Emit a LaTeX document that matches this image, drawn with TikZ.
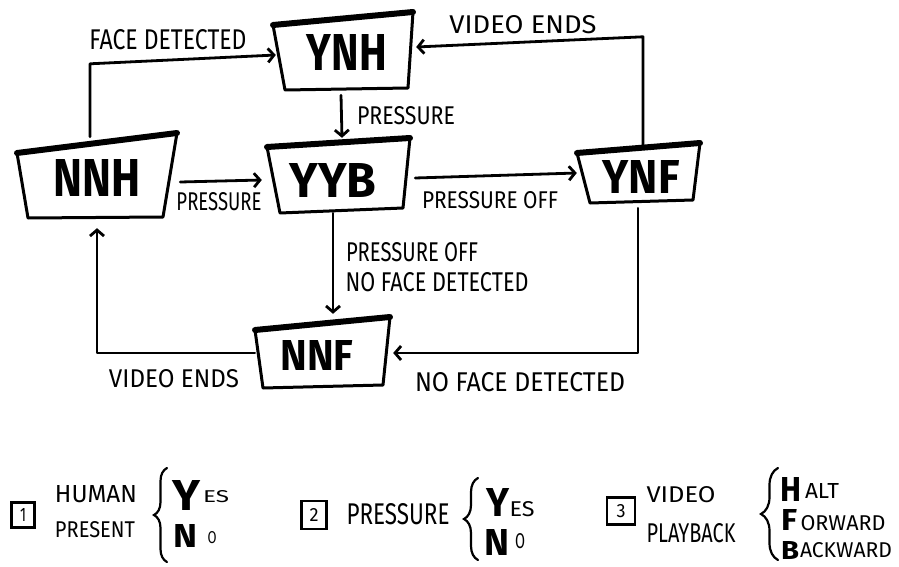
\documentclass[tikz,border=0pt]{standalone}
\usepackage{fontspec}
\usepackage{graphicx}
\setmainfont{Fira Sans}
\usetikzlibrary{arrows.meta,decorations.pathreplacing,calc}
\newcommand{\fitto}[3]{\resizebox{#1pt}{#2pt}{#3}}
\begin{document}
\begin{tikzpicture}[x=1pt,y=-1pt,
  ink/.style={line width=2.8pt, line cap=round, line join=round},
  arr/.style={ink, -{Straight Barb[length=6pt,width=14pt]}},
  boxside/.style={line width=3pt, line cap=round, line join=round},
  boxtop/.style={line width=6pt, line cap=round},
  state/.style={inner sep=0, font=\bfseries},
  lbl/.style={inner sep=0},
  bigl/.style={inner sep=0, font=\bfseries},
  keybox/.style={draw, line width=2.2pt, inner sep=0},
  brc/.style={line width=2.2pt, line cap=round, decorate, decoration={brace, amplitude=#1}}
]
\useasboundingbox (0,0) rectangle (899,567);
\fill[white] (0,0) rectangle (899,567);

% ---------- state nodes ----------
\node[state, minimum width=130pt, minimum height=72pt] (ynh) at (347,53) {\fitto{80}{36}{YNH}};
\node[state, minimum width=150pt, minimum height=76pt] (nnh) at (97,178) {\fitto{87}{37}{NNH}};
\node[state, minimum width=136pt, minimum height=66pt] (yyb) at (333,180) {\fitto{87}{34}{YYB}};
\node[state, minimum width=116pt, minimum height=56pt] (ynf) at (641,177) {\fitto{77}{33}{YNF}};
\node[state, minimum width=130pt, minimum height=62pt] (nnf) at (317,355) {\fitto{73}{30}{NNF}};

% ---------- box outlines ----------
\draw[boxside] (413,12) -- (408,88) -- (285,90) -- (273,25);
\draw[boxtop] (273,25) -- (413,12);
\draw[boxside] (177,133) -- (163,217) -- (28,218) -- (17,153);
\draw[boxtop] (17,153) -- (177,133);
\draw[boxside] (410,138) -- (403,208) -- (280,213) -- (267,147);
\draw[boxtop] (267,147) -- (410,138);
\draw[boxside] (700,143) -- (693,200) -- (590,203) -- (577,153);
\draw[boxtop] (577,153) -- (700,143);
\draw[boxside] (390,317) -- (383,385) -- (263,388) -- (255,330);
\draw[boxtop] (255,330) -- (390,317);

% ---------- connectors ----------
\draw[arr] ($(nnh.north)+(-7,-3)$) -- ++(0,-73) -- ($(ynh.west)+(-6,2)$);
\draw[arr] ($(ynh.south)+(-6,6)$) -- ($(yyb.north)+(9,-9)$);
\draw[arr] ($(nnh.east)+(8,4)$) -- ($(yyb.west)+(-3,0)$);
\draw[arr] ($(yyb.east)+(14,-2)$) -- ($(ynf.west)+(-6,-4)$);
\draw[arr] ($(ynf.north)+(2,-1)$) -- ++(0,-111) -- ($(ynh.east)+(4,-6)$);
\draw[arr] ($(yyb.south)+(0,0)$) -- ($(nnf.north)+(16,-10)$);
\draw[arr] ($(nnf.west)+(3,-2)$) -| ($(nnh.south)+(0,12)$);
\draw[arr] ($(ynf.south)+(-3,3)$) |- ($(nnf.east)+(11,-2)$);

% ---------- connector labels ----------
\node[lbl] (l1) at (168,40) {\fitto{157}{20}{FACE DETECTED}};
\node[lbl] (l2) at (406,116) {\fitto{98}{18}{PRESSURE}};
\node[lbl] (l3) at (219,202) {\fitto{85}{18}{PRESSURE}};
\node[lbl] (l4) at (490,200) {\fitto{136}{17}{PRESSURE OFF}};
\node[lbl] (l5) at (523,25) {\fitto{147}{18}{VIDEO ENDS}};
\node[lbl] (l6) at (412,252) {\fitto{132}{19}{PRESSURE OFF}};
\node[lbl] (l7) at (437,282) {\fitto{183}{19}{NO FACE DETECTED}};
\node[lbl] (l8) at (174,379) {\fitto{130}{18}{VIDEO ENDS}};
\node[lbl] (l9) at (520,382) {\fitto{210}{19}{NO FACE DETECTED}};

% ---------- legend 1 ----------
\node[keybox, minimum width=23pt, minimum height=25pt] (k1) at (23,515) {\fitto{6}{13}{1}};
\node[lbl] (hum) at (96,494) {\fitto{82}{17}{HUMAN}};
\node[lbl] (prs) at (95,530) {\fitto{80}{16}{PRESENT}};
\draw[brc=13pt] (167,562) -- (167,468);
\node[bigl] (y1) at (186,495) {\fitto{28}{30}{Y}};
\node[lbl] (es1) at (216,497) {\fitto{26}{12}{ES}};
\node[bigl] (n1) at (185,536) {\fitto{24}{23}{N}};
\node[lbl] (o1) at (212,538) {\fitto{9}{12}{O}};

% ---------- legend 2 ----------
\node[keybox, minimum width=25pt, minimum height=28pt] (k2) at (314,515) {\fitto{9}{13}{2}};
\node[lbl] (prs2) at (398,514) {\fitto{103}{21}{PRESSURE}};
\draw[brc=14pt] (478,560) -- (478,478);
\node[bigl] (y2) at (498,502) {\fitto{23}{28}{Y}};
\node[lbl] (es2) at (522,509) {\fitto{25}{15}{ES}};
\node[bigl] (n2) at (497,542) {\fitto{25}{26}{N}};
\node[lbl] (o2) at (520,541) {\fitto{10}{15}{O}};

% ---------- legend 3 ----------
\node[keybox, minimum width=28pt, minimum height=27pt] (k3) at (621,511) {\fitto{9}{13}{3}};
\node[lbl] (vid) at (681,495) {\fitto{69}{16}{VIDEO}};
\node[lbl] (pla) at (691,533) {\fitto{89}{19}{PLAYBACK}};
\draw[brc=17pt] (778,560) -- (778,468);
\node[bigl] (h3) at (791,489) {\fitto{21}{24}{H}};
\node[lbl] (alt) at (822,491) {\fitto{34}{15}{ALT}};
\node[bigl] (f3) at (789,520) {\fitto{16}{21}{F}};
\node[lbl] (orw) at (843,523) {\fitto{85}{15}{ORWARD}};
\node[bigl] (b3) at (790,550) {\fitto{18}{18}{B}};
\node[lbl] (ack) at (846,550) {\fitto{92}{15}{ACKWARD}};
\end{tikzpicture}
\end{document}
